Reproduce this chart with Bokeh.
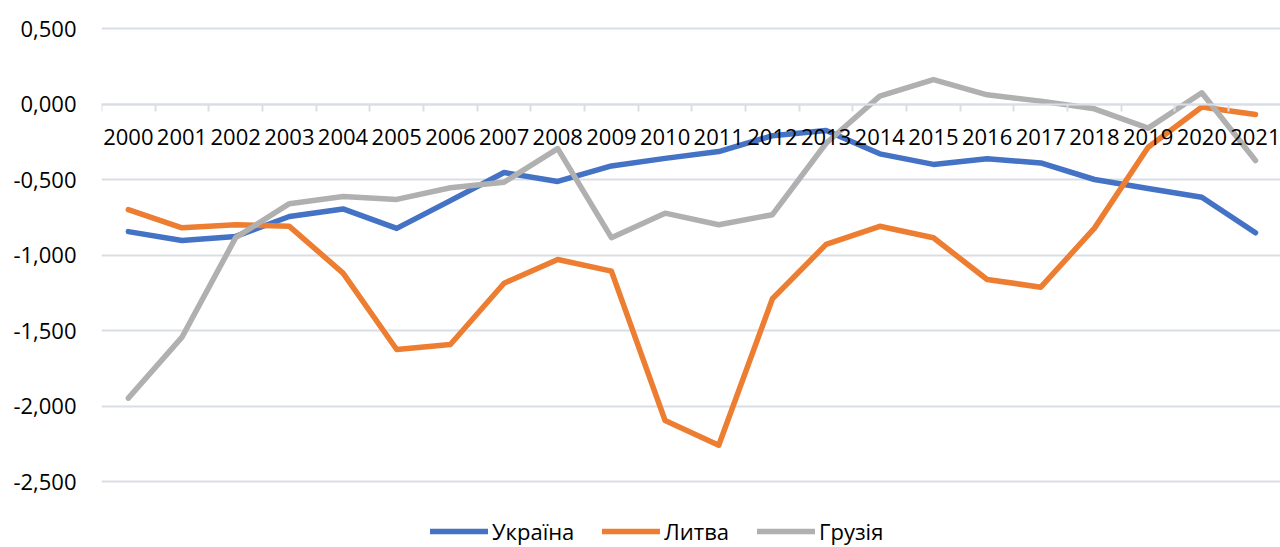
from bokeh.plotting import figure
from bokeh.models import FixedTicker, Legend, LegendItem, Range1d, LinearAxis
from bokeh.embed import file_html
from bokeh.resources import INLINE

years = list(range(2000, 2022))
ukraine = [-0.845, -0.904, -0.877, -0.745, -0.695, -0.824, -0.64, -0.454, -0.513, -0.41,
           -0.36, -0.315, -0.21, -0.175, -0.33, -0.40, -0.363, -0.39, -0.50, -0.56, -0.617, -0.853]
lithuania = [-0.70, -0.82, -0.80, -0.81, -1.12, -1.626, -1.593, -1.187, -1.03, -1.107,
             -2.096, -2.26, -1.29, -0.93, -0.81, -0.886, -1.162, -1.213, -0.822, -0.286, -0.02, -0.07]
georgia = [-1.948, -1.544, -0.885, -0.66, -0.613, -0.632, -0.555, -0.518, -0.296, -0.885,
           -0.723, -0.80, -0.733, -0.26, 0.052, 0.162, 0.061, 0.019, -0.032, -0.16, 0.074, -0.374]
series_names = ["Україна", "Литва", "Грузія"]
colors = ["#4472C4", "#ED7D31", "#B0B0B0"]
y_ticks = [0.5, 0.0, -0.5, -1.0, -1.5, -2.0, -2.5]
y_tick_labels = ["0,500", "0,000", "-0,500", "-1,000", "-1,500", "-2,000", "-2,500"]

FONT = "Open Sans"
GRID = "#D9DEE6"

# frame spans from y=18 to the bottom of the page; 151 px per unit
PX_PER_UNIT = 151.0
y_top = 0.5 + 10 / PX_PER_UNIT
y_bottom = 0.5 - (547 - 28) / PX_PER_UNIT

p = figure(width=1280, height=547, output_backend="svg", toolbar_location=None,
           x_range=Range1d(1999.5, 2021.466), y_range=Range1d(y_bottom, y_top),
           min_border_left=101, min_border_right=0, min_border_top=18, min_border_bottom=0,
           x_axis_location=None, y_axis_location="left")
p.outline_line_color = None
p.background_fill_color = "white"
p.border_fill_color = "white"

# y axis
p.yaxis.ticker = FixedTicker(ticks=y_ticks)
p.yaxis.major_label_overrides = {t: l for t, l in zip(y_ticks, y_tick_labels)}
p.yaxis.axis_line_color = None
p.yaxis.major_tick_line_color = None
p.yaxis.minor_tick_line_color = None
p.yaxis.major_tick_out = 0
p.yaxis.major_label_standoff = 25
p.yaxis.major_label_text_font = FONT
p.yaxis.major_label_text_font_size = "22px"
p.yaxis.major_label_text_color = "#000000"

p.ygrid.ticker = FixedTicker(ticks=y_ticks)
p.ygrid.grid_line_color = GRID
p.ygrid.grid_line_width = 2
p.xgrid.grid_line_color = None

# category axis crossing at zero
xax = LinearAxis(fixed_location=0)
xax.ticker = FixedTicker(ticks=years, minor_ticks=[y - 0.5 for y in years] + [years[-1] + 0.5])
xax.axis_line_color = GRID
xax.axis_line_width = 2
xax.major_tick_line_color = None
xax.major_tick_out = 0
xax.major_tick_in = 0
xax.minor_tick_line_color = GRID
xax.minor_tick_line_width = 2
xax.minor_tick_out = 7
xax.minor_tick_in = 0
xax.major_label_standoff = 18
xax.major_label_text_font = FONT
xax.major_label_text_font_size = "22px"
xax.major_label_text_color = "#000000"
p.add_layout(xax, "below")

renderers = []
for vals, c in zip([ukraine, lithuania, georgia], colors):
    r = p.line(years, vals, line_color=c, line_width=5.5, line_join="round", line_cap="round")
    renderers.append(r)

legend = Legend(items=[LegendItem(label=n, renderers=[r]) for n, r in zip(series_names, renderers)],
                orientation="horizontal", location=(329, 1))
legend.padding = 0
legend.margin = 0
legend.border_line_color = None
legend.background_fill_alpha = 0
legend.glyph_width = 58
legend.glyph_height = 20
legend.label_height = 20
legend.label_standoff = 4
legend.spacing = 28
legend.label_text_font = FONT
legend.label_text_font_size = "22px"
legend.label_text_color = "#000000"
p.add_layout(legend, "center")

open("out.html", "w").write(file_html(p, INLINE))
